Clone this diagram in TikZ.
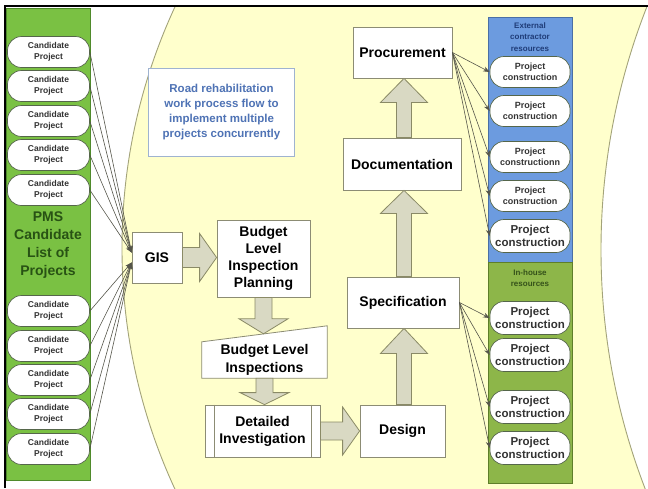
\documentclass[tikz,border=0pt]{standalone}
\usepackage{fontspec}
\setmainfont{Liberation Sans}
\usetikzlibrary{calc,arrows.meta}
\definecolor{yel}{HTML}{FFFFCC}
\definecolor{arcc}{HTML}{A3A37A}
\definecolor{lgreen}{HTML}{7AC143}
\definecolor{lgreend}{HTML}{4F8A2B}
\definecolor{rblue}{HTML}{6C9BDF}
\definecolor{rblued}{HTML}{4A6FA5}
\definecolor{rgreen}{HTML}{8DB649}
\definecolor{rgreend}{HTML}{5E7E2A}
\definecolor{boxc}{HTML}{8C8C74}
\definecolor{ovalc}{HTML}{55664A}
\definecolor{arfill}{HTML}{D9D9C3}
\definecolor{arline}{HTML}{8A8A66}
\definecolor{pmsc}{HTML}{285214}
\definecolor{notec}{HTML}{4F73B5}
\definecolor{noteb}{HTML}{9FB3D0}
\definecolor{extc}{HTML}{1F3C78}
\definecolor{inhc}{HTML}{35521A}
\definecolor{linec}{HTML}{55554A}
\definecolor{txtc}{HTML}{333333}
\newcommand{\barrowup}[5]{\draw[blockar] let \p1=#1, \p2=#2 in (\x1-#3,\y1) -- (\x1-#3,\y2-#5) -- (\x1-#4,\y2-#5) -- (\x1,\y2) -- (\x1+#4,\y2-#5) -- (\x1+#3,\y2-#5) -- (\x1+#3,\y1) -- cycle;}
\newcommand{\barrowdown}[5]{\draw[blockar] let \p1=#1, \p2=#2 in (\x1-#3,\y1) -- (\x1-#3,\y2+#5) -- (\x1-#4,\y2+#5) -- (\x1,\y2) -- (\x1+#4,\y2+#5) -- (\x1+#3,\y2+#5) -- (\x1+#3,\y1) -- cycle;}
\newcommand{\barrowright}[5]{\draw[blockar] let \p1=#1, \p2=#2 in (\x1,\y1+#3) -- (\x2-#5,\y1+#3) -- (\x2-#5,\y1+#4) -- (\x2,\y1) -- (\x2-#5,\y1-#4) -- (\x2-#5,\y1-#3) -- (\x1,\y1-#3) -- cycle;}
\begin{document}
\begin{tikzpicture}[x=1pt,y=-1pt,
  box/.style={draw=boxc, fill=white, line width=0.8pt, text=black, align=center, inner sep=0pt,
    font=\bfseries\fontsize{14}{17}\selectfont},
  cand/.style={draw=ovalc, fill=white, line width=0.7pt, rounded corners=14pt, minimum width=82pt,
    minimum height=31pt, inner sep=0pt, align=center, text=txtc, font=\bfseries\fontsize{8.5}{10.5}\selectfont},
  pc/.style={cand, minimum width=80pt, font=\bfseries\fontsize{9}{11}\selectfont},
  pcbig/.style={pc, minimum height=33pt, font=\bfseries\fontsize{11.5}{13}\selectfont},
  blockar/.style={draw=arline, fill=arfill, line width=0.8pt, line join=miter},
  conn/.style={draw=linec, line width=0.6pt, -{Stealth[length=6.5pt,width=5pt]}},
  arcline/.style={draw=arcc, line width=0.9pt}]
\useasboundingbox (0,0) rectangle (648,488);
% background crescent
\begin{scope}
  \clip (5,7) rectangle (648,488);
  \fill[yel, even odd rule] (696,248) circle[radius=574] (1266,250) circle[radius=665];
  \draw[arcline] (696,248) circle[radius=574];
  \draw[arcline] (1266,250) circle[radius=665];
\end{scope}
\draw[line width=2.5pt] (5,488) -- (5,6) -- (648,6);
% left panel
\draw[fill=lgreen, draw=lgreend, line width=0.8pt] (6,8) rectangle (90,480);
\node[cand] (c1) at (48.5,52) {Candidate\\Project};
\node[cand] (c2) at (48.5,86) {Candidate\\Project};
\node[cand] (c3) at (48.5,121) {Candidate\\Project};
\node[cand] (c4) at (48.5,155) {Candidate\\Project};
\node[cand] (c5) at (48.5,190) {Candidate\\Project};
\node[align=center, text=pmsc, font=\bfseries\fontsize{14}{18}\selectfont] (pms) at (48,245) {PMS\\Candidate\\List of\\Projects};
\node[cand] (c6) at (48.5,311) {Candidate\\Project};
\node[cand] (c7) at (48.5,346) {Candidate\\Project};
\node[cand] (c8) at (48.5,380) {Candidate\\Project};
\node[cand] (c9) at (48.5,414) {Candidate\\Project};
\node[cand] (c10) at (48.5,449) {Candidate\\Project};
% right panel
\draw[fill=rblue, draw=rblued, line width=0.8pt] (488,17) rectangle (572,262);
\draw[fill=rgreen, draw=rgreend, line width=0.8pt] (488,262) rectangle (572,483);
\node[align=center, text=extc, font=\bfseries\fontsize{8}{11.5}\selectfont] (ext) at (530,37) {External\\contractor\\resources};
\node[align=center, text=inhc, font=\bfseries\fontsize{8}{11.5}\selectfont] (inh) at (530,278) {In-house\\resources};
\node[pc] (p1) at (530,72) {Project\\construction};
\node[pc] (p2) at (530,111) {Project\\construction};
\node[pc] (p3) at (530,157) {Project\\constructionn};
\node[pc] (p4) at (530,196) {Project\\construction};
\node[pcbig] (p5) at (530,236) {Project\\construction};
\node[pcbig] (g1) at (530,318) {Project\\construction};
\node[pcbig] (g2) at (530,355) {Project\\construction};
\node[pcbig] (g3) at (530,407) {Project\\construction};
\node[pcbig] (g4) at (530,448) {Project\\construction};
% note
\node[draw=noteb, fill=white, line width=1.5pt, minimum width=146pt, minimum height=88pt, align=center,
  text=notec, font=\bfseries\fontsize{11.5}{15}\selectfont] (note) at (221.5,112.5)
  {Road rehabilitation\\work process flow to\\implement multiple\\projects concurrently};
% process boxes
\node[box, minimum width=50pt, minimum height=51pt] (gis) at (157,257.5) {GIS};
\node[box, minimum width=93pt, minimum height=77pt] (blip) at (263.5,258.5) {Budget\\Level\\Inspection\\Planning};
\node[minimum width=125pt, minimum height=36pt, inner sep=0pt] (bli) at (264.5,360) {};
\node[box, minimum width=115pt, minimum height=52pt] (di) at (262.5,431) {Detailed\\Investigation};
\node[box, minimum width=85pt, minimum height=52pt] (design) at (402.5,431) {Design};
\node[box, minimum width=112pt, minimum height=51pt] (spec) at (403,302.5) {Specification};
\node[box, minimum width=118pt, minimum height=52pt] (doc) at (402,164) {Documentation};
\node[box, minimum width=99pt, minimum height=51pt] (proc) at (402.5,52.5) {Procurement};
% manual input shape for Budget Level Inspections
\draw[draw=boxc, fill=white, line width=0.8pt] (bli.south west) -- (bli.south east) -- ([yshift=16pt]bli.north east) -- (bli.north west) -- cycle;
\node[align=center, inner sep=0pt, font=\bfseries\fontsize{14}{18}\selectfont] (blitext) at (bli.center) {Budget Level\\Inspections};
% predefined process inner lines
\draw[draw=boxc, line width=0.8pt] ([xshift=10pt]di.north west) -- ([xshift=10pt]di.south west);
\draw[draw=boxc, line width=0.8pt] ([xshift=-9pt]di.north east) -- ([xshift=-9pt]di.south east);
% block arrows
\barrowright{(gis.east)}{(blip.west)}{10pt}{24pt}{17pt}
\barrowdown{(blip.south)}{([yshift=8pt]bli.north)}{8.5pt}{24.5pt}{15pt}
\barrowdown{(bli.south)}{(di.north)}{8.5pt}{24.5pt}{12pt}
\barrowright{(di.east)}{(design.west)}{9pt}{24pt}{17pt}
\barrowup{([xshift=1.5pt]design.north)}{([xshift=1.5pt]spec.south)}{7.5pt}{23.5pt}{25pt}
\barrowup{([xshift=1pt]spec.north)}{([xshift=1pt]doc.south)}{7.5pt}{23.5pt}{23pt}
\barrowup{([xshift=2pt]doc.north)}{([xshift=2pt]proc.south)}{7.5pt}{23.5pt}{24pt}
% connectors
\foreach \c in {c1,c2,c3,c4,c5} \draw[conn] (\c.east) -- ([yshift=5pt]gis.west);
\foreach \c in {c6,c7,c8,c9,c10} \draw[conn] (\c.east) -- ([yshift=-5pt]gis.west);
\foreach \p in {p1,p2,p3,p4,p5} \draw[conn] (proc.east) -- (\p.west);
\foreach \g in {g1,g2,g3,g4} \draw[conn] (spec.east) -- (\g.west);
\end{tikzpicture}
\end{document}
